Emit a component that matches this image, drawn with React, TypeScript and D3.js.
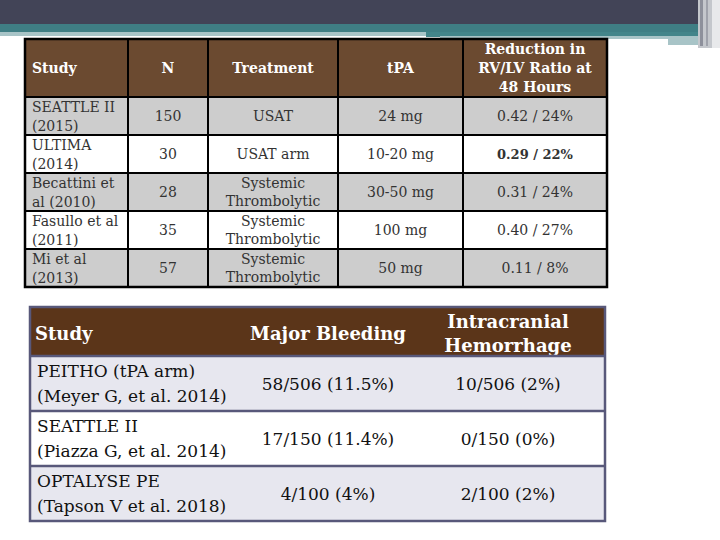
import React from 'react'
import * as d3 from 'd3'

// ---- data: table 1 (RV/LV ratio) ----
const t1Headers = [['Study'], ['N'], ['Treatment'], ['tPA'], ['Reduction in', 'RV/LV Ratio at', '48 Hours']]
const t1Studies = [['SEATTLE II', '(2015)'], ['ULTIMA', '(2014)'], ['Becattini et', 'al (2010)'], ['Fasullo et al', '(2011)'], ['Mi et al', '(2013)']]
const t1N = [150, 30, 28, 35, 57]
const t1Treatment = [['USAT'], ['USAT arm'], ['Systemic', 'Thrombolytic'], ['Systemic', 'Thrombolytic'], ['Systemic', 'Thrombolytic']]
const t1Dose = ['24 mg', '10-20 mg', '30-50 mg', '100 mg', '50 mg']
const t1Ratio = [0.42, 0.29, 0.31, 0.40, 0.11]
const t1Pct = [24, 22, 24, 27, 8]

// ---- data: table 2 (bleeding) ----
const t2Headers = [['Study'], ['Major Bleeding'], ['Intracranial', 'Hemorrhage']]
const t2Studies = [['PEITHO (tPA arm)', '(Meyer G, et al. 2014)'], ['SEATTLE II', '(Piazza G, et al. 2014)'], ['OPTALYSE PE', '(Tapson V et al. 2018)']]
const t2Total = [506, 150, 100]
const t2Major = [58, 17, 4]
const t2MajorPct = ['11.5%', '11.4%', '4%']
const t2Ich = [10, 0, 2]
const t2IchPct = ['2%', '0%', '2%']

const W = 720
const H = 540
const serif = 'DejaVu Serif, serif'

function Lines({ x, cy, lines, gap, anchor, size, weight, fill }: any) {
  const y0 = cy - ((lines.length - 1) * gap) / 2
  return (
    <text x={x} textAnchor={anchor} fontFamily={serif} fontSize={size} fontWeight={weight} fill={fill} dominantBaseline="central">
      {lines.map((l: string, i: number) => (
        <tspan key={i} x={x} y={y0 + i * gap}>{l}</tspan>
      ))}
    </text>
  )
}

function Table1() {
  const edges = [25, 128, 208, 338, 463, 607]
  const top = 39
  const headH = 58
  const y = d3.scaleBand<number>().domain(d3.range(t1N.length)).range([top + headH, 287]).padding(0)
  const rows = t1N.map((n, i) => ({
    cells: [
      null,
      [String(n)],
      t1Treatment[i],
      [t1Dose[i]],
      [`${d3.format('.2f')(t1Ratio[i])} / ${t1Pct[i]}%`]
    ]
  }))
  const bw = y.bandwidth()
  return (
    <g>
      <rect x={edges[0]} y={top} width={edges[5] - edges[0]} height={headH} fill="#6b4a30" />
      {rows.map((r, i) => (
        <rect key={i} x={edges[0]} y={y(i)} width={edges[5] - edges[0]} height={bw} fill={i % 2 === 0 ? '#cdcdcd' : '#ffffff'} />
      ))}
      {t1Headers.map((h, j) => (
        j === 0
          ? <Lines key={j} x={edges[0] + 7} cy={top + headH / 2} lines={h} gap={19} anchor="start" size={14} weight="bold" fill="#ffffff" />
          : <Lines key={j} x={(edges[j] + edges[j + 1]) / 2} cy={top + headH / 2} lines={h} gap={19} anchor="middle" size={14} weight="bold" fill="#ffffff" />
      ))}
      {rows.map((r, i) => (
        <g key={i}>
          <text fontFamily={serif} fontSize={14} fill="#333">
            {t1Studies[i].map((l, k) => (
              <tspan key={k} x={edges[0] + 7} y={(y(i) as number) + 15 + k * 19}>{l}</tspan>
            ))}
          </text>
          {r.cells.slice(1).map((c, j) => (
            <Lines key={j} x={(edges[j + 1] + edges[j + 2]) / 2} cy={(y(i) as number) + bw / 2} lines={c} gap={18}
              anchor="middle" size={j === 3 && i === 1 ? 13 : 14} weight={j === 3 && i === 1 ? 'bold' : 'normal'} fill="#333" />
          ))}
        </g>
      ))}
      {[top + headH, ...d3.range(1, t1N.length).map(i => y(i) as number)].map((yy, i) => (
        <line key={'h' + i} x1={edges[0]} x2={edges[5]} y1={yy} y2={yy} stroke="#000" strokeWidth={2} />
      ))}
      {edges.slice(1, 5).map((xx, i) => (
        <line key={'v' + i} x1={xx} x2={xx} y1={top} y2={287} stroke="#000" strokeWidth={2} />
      ))}
      <rect x={edges[0]} y={top} width={edges[5] - edges[0]} height={287 - top} fill="none" stroke="#000" strokeWidth={2.5} />
    </g>
  )
}

function Table2() {
  const left = 30
  const right = 605
  const top = 307
  const headH = 49
  const colCenters = [0, 328, 508]
  const y = d3.scaleBand<number>().domain(d3.range(t2Total.length)).range([top + headH, 521]).padding(0)
  const bw = y.bandwidth()
  const border = '#58587a'
  return (
    <g>
      <rect x={left} y={top} width={right - left} height={headH} fill="#5b3519" />
      {t2Total.map((_, i) => (
        <rect key={i} x={left} y={y(i)} width={right - left} height={bw} fill={i % 2 === 0 ? '#e7e7ef' : '#ffffff'} />
      ))}
      {t2Headers.map((h, j) => (
        <Lines key={j} x={j === 0 ? left + 5 : colCenters[j]} cy={top + headH / 2 + 1} lines={h} gap={24}
          anchor={j === 0 ? 'start' : 'middle'} size={18} weight="bold" fill="#ffffff" />
      ))}
      {t2Total.map((tot, i) => {
        const cy = (y(i) as number) + bw / 2
        return (
          <g key={i}>
            <Lines x={left + 7} cy={cy} lines={t2Studies[i]} gap={25} anchor="start" size={17} weight="normal" fill="#111" />
            <Lines x={colCenters[1]} cy={cy} lines={[`${t2Major[i]}/${tot} (${t2MajorPct[i]})`]} gap={25} anchor="middle" size={17} weight="normal" fill="#111" />
            <Lines x={colCenters[2]} cy={cy} lines={[`${t2Ich[i]}/${tot} (${t2IchPct[i]})`]} gap={25} anchor="middle" size={17} weight="normal" fill="#111" />
          </g>
        )
      })}
      {[top + headH, ...d3.range(1, t2Total.length).map(i => y(i) as number)].map((yy, i) => (
        <line key={i} x1={left} x2={right} y1={yy} y2={yy} stroke={border} strokeWidth={2.5} />
      ))}
      <rect x={left} y={top} width={right - left} height={521 - top} fill="none" stroke={border} strokeWidth={2.5} />
    </g>
  )
}

export default function App() {
  return (
    <svg width={W} height={H} style={{ position: 'absolute', left: 0, top: 0, background: '#fff' }}>
      <rect x={0} y={0} width={W} height={H} fill="#fff" />
      {/* slide banner */}
      <rect x={0} y={0} width={W} height={24} fill="#424457" />
      <rect x={0} y={24} width={700} height={9} fill="#3f7e84" />
      <rect x={0} y={32} width={426} height={4} fill="#a8c4c7" />
      <rect x={426} y={32} width={274} height={5} fill="#43858a" />
      <rect x={440} y={36} width={228} height={3} fill="#a8c4c7" />
      <rect x={608} y={39} width={60} height={2} fill="#ffffff" />
      <rect x={668} y={36} width={34} height={9} fill="#a8c4c7" />
      <rect x={698} y={0} width={22} height={48} fill="#c4c7cc" />
      <rect x={700} y={0} width={3} height={46} fill="#8d909b" />
      <rect x={706} y={0} width={2} height={46} fill="#9fa2ab" />
      <rect x={712} y={0} width={8} height={48} fill="#e8e9eb" />
      <Table1 />
      <Table2 />
    </svg>
  )
}
